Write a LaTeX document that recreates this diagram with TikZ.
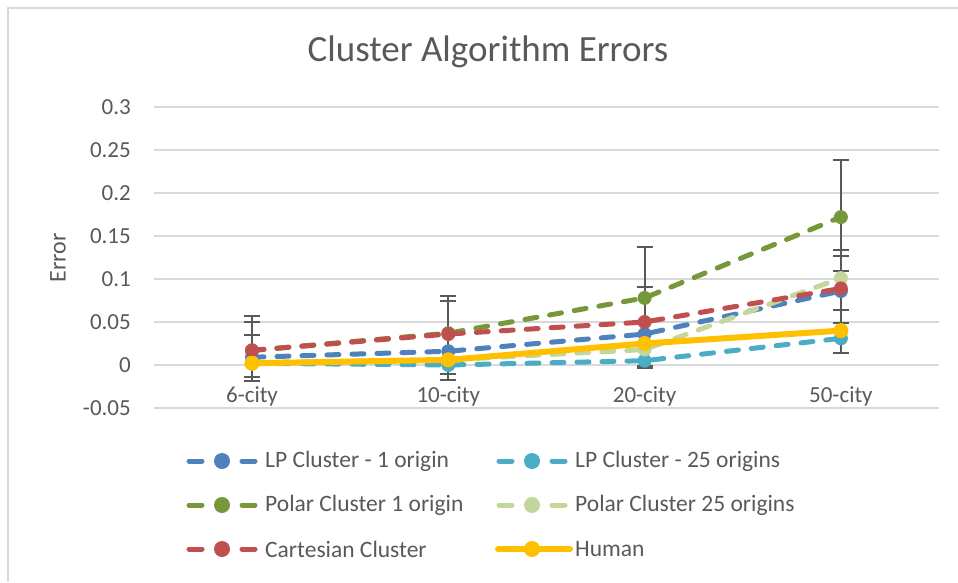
\documentclass[tikz,border=0pt]{standalone}
\usepackage{fontspec}
\setmainfont{Carlito}
\usetikzlibrary{positioning}
\definecolor{cetext}{HTML}{595959}
\definecolor{cegrid}{HTML}{D9D9D9}
\definecolor{ceblue}{HTML}{4F81BD}
\definecolor{ceteal}{HTML}{4BACC6}
\definecolor{cegreen}{RGB}{118,152,58}
\definecolor{celight}{HTML}{C3D69B}
\definecolor{cered}{HTML}{C0504D}
\definecolor{ceyellow}{HTML}{FFC000}

\begin{document}
\begin{tikzpicture}[
  x=1pt, y=-1pt,
  every node/.style={text=cetext, inner sep=0pt},
  tick/.style={font=\fontsize{23}{26}\selectfont, anchor=east},
  catlab/.style={font=\fontsize{23}{26}\selectfont},
  leglab/.style={font=\fontsize{23.5}{26}\selectfont, anchor=west},
  grid/.style={draw=cegrid, line width=2pt},
  series/.style={line width=5pt, line cap=round, line join=round,
                 dash pattern=on 12pt off 13pt},
  human/.style={line width=6pt, line cap=round, line join=round},
  errbar/.style={draw=cetext, line width=2pt},
]
\useasboundingbox (0,0) rectangle (958,582);

% Chart frame
\draw[cegrid, line width=2pt] (958,7.5) -| (7.5,582);

% Title
\node[font=\fontsize{37}{40}\selectfont] (title) at (488,52) {Cluster Algorithm Errors};

% Gridlines and value axis labels
\foreach \v/\lab in {0.3/0.3, 0.25/0.25, 0.2/0.2, 0.15/0.15, 0.1/0.1,
                     0.05/0.05, 0/0, -0.05/-0.05} {
  \draw[grid] (154,365-860*\v) -- (939,365-860*\v);
  \node[tick] at (131,365-860*\v) {\lab};
}
\node[font=\fontsize{24}{26}\selectfont, rotate=90] (ytitle) at (58,258) {Error};

% Category labels
\foreach \c [count=\i] in {6-city, 10-city, 20-city, 50-city}
  \node[catlab] (cat\i) at (55.7+196.3*\i,396) {\c};

\begin{scope}[shift={(55.7,365)}, x=196.3pt, y=860pt]

% ── Error bars ──
\foreach \i/\lo/\hi/\caps in {
    1/-0.019/0.057/{0.057,0.050,0.035,-0.014,-0.019},
    2/-0.017/0.080/{0.080,0.074,-0.010,-0.017},
    3/-0.004/0.137/{0.137,0.091,-0.001,-0.004},
    4/0.014/0.238/{0.238,0.134,0.127,0.109,0.064,0.049,0.014}} {
  \draw[errbar] (\i,\lo) -- (\i,\hi);
  \foreach \e in \caps
    \draw[errbar] ([xshift=-8pt]\i,\e) -- ([xshift=8pt]\i,\e);
}

% ── Series ──
\foreach \s/\col/\a/\b/\c/\d in {
    lpone/ceblue/0.009/0.016/0.036/0.086,
    lpmany/ceteal/0.002/0.000/0.005/0.031,
    polone/cegreen/0.017/0.037/0.078/0.172,
    polmany/celight/0.003/0.006/0.018/0.101,
    cart/cered/0.017/0.036/0.050/0.089} {
  \coordinate (\s1) at (1,\a);
  \coordinate (\s2) at (2,\b);
  \coordinate (\s3) at (3,\c);
  \coordinate (\s4) at (4,\d);
  \draw[series, draw=\col] (\s1) -- (\s2) -- (\s3) -- (\s4);
  \foreach \k in {1,...,4}
    \fill[\col] (\s\k) circle (7pt);
}

% Human
\coordinate (hum1) at (1,0.002);
\coordinate (hum2) at (2,0.006);
\coordinate (hum3) at (3,0.025);
\coordinate (hum4) at (4,0.040);
\draw[human, draw=ceyellow] (hum1) -- (hum2) -- (hum3) -- (hum4);
\foreach \k in {1,...,4}
  \fill[ceyellow] (hum\k) circle (7.5pt);
\end{scope}

% ── Legend ──
\foreach \cx/\cy/\col/\lab in {
    222/461/ceblue/LP Cluster - 1 origin,
    532/461/ceteal/LP Cluster - 25 origins,
    222/505/cegreen/Polar Cluster 1 origin,
    532/505/celight/Polar Cluster 25 origins,
    222/549/cered/Cartesian Cluster} {
  \draw[\col, line width=5pt, line cap=round] (\cx-33,\cy) -- (\cx-20,\cy);
  \draw[\col, line width=5pt, line cap=round] (\cx+20,\cy) -- (\cx+33,\cy);
  \fill[\col] (\cx,\cy) circle (8pt);
  \node[leglab] at (\cx+43,\cy) {\lab};
}
\draw[human, draw=ceyellow] (498,549) -- (570,549);
\fill[ceyellow] (532,549) circle (8pt);
\node[leglab] (leghum) at (575,549) {Human};

\end{tikzpicture}
\end{document}
